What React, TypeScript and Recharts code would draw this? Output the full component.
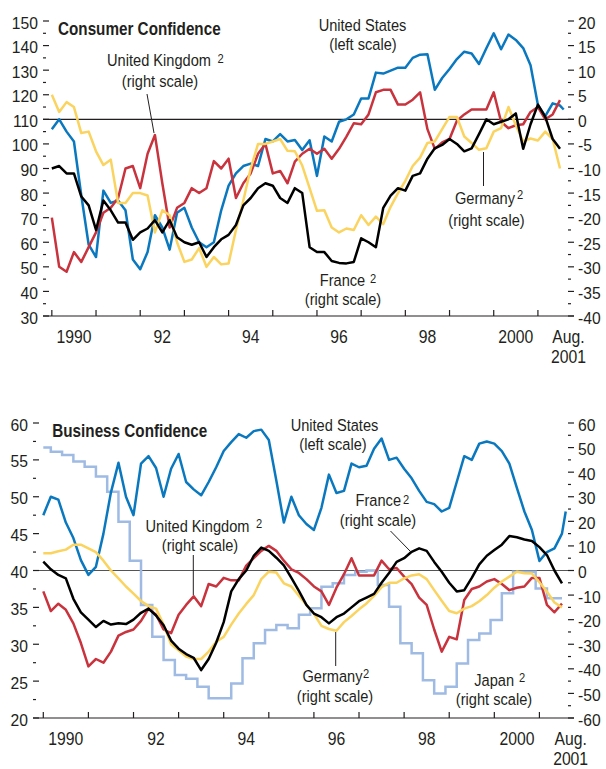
import React from "react";
import { LineChart, Line, XAxis, YAxis, ReferenceLine } from "recharts";

const FONT = '"Liberation Sans", Arial, Helvetica, sans-serif';
const INK = "#231f20";

// month index, 0 = Jan 1990; every second month, last point Aug 2001
const MONTHS = [...Array.from({ length: 70 }, (_, i) => i * 2), 139];

// Consumer confidence (US left scale, others right scale)
const US_CONS = [
  106, 110, 105, 101, 79, 59, 54, 81, 76, 77,
  73, 53, 49, 56, 71, 66, 57, 72, 74, 66,
  60, 58, 60, 73, 83, 88, 91, 92, 91, 102,
  101, 104, 101, 101.6, 97.5, 101.5, 87, 103, 101, 109,
  110, 112, 118.5, 118.5, 129, 128.6, 129.8, 131, 131, 135,
  136.3, 136.5, 122, 126.8, 130.5, 134.5, 137.5, 136.8, 132.5, 138.9,
  145, 138.5, 144.5, 142.3, 139, 132, 115.8, 111.3, 116.5, 115.6,
  114,
];
const UK_CONS = [
  -20, -30, -31, -27, -29, -26, -23, -19, -18, -16,
  -10, -9.5, -14, -7, -3.2, -13, -22, -18, -17, -14,
  -15, -14, -8.5, -10, -8, -16, -13, -11, -7, -5,
  -11, -10.5, -13, -8.6, -7, -6, -7, -6, -8, -6,
  -3.5, -0.8, -1, 1, 5.5, 6, 6, 3, 3, 4,
  5.5, -2, -6, -4.7, -4, -0.3, 1, 2, 2, 2,
  5.5, -0.5, -1.8, -1.2, -1, 1.5, 2.5, 0, 1, 3.9,
  null,
];
const DE_CONS = [
  5, 1.5, 3.5, 2.5, -2.8, -2.5, -6.5, -9.3, -8.2, -17,
  -17, -15, -15, -15.5, -23, -18.5, -19.5, -25, -29, -28.5,
  -26.2, -30, -28, -29.5, -29.3, -22.5, -16.5, -10, -5, -5,
  -4.5, -4, -6.4, -6.5, -9.4, -14, -18.6, -18.5, -22, -23,
  -22.2, -22.5, -19.5, -21.5, -19.8, -21.3, -17.8, -15, -12.5, -9.5,
  -7.8, -4.8, -4.5, -2, 0.5, 0.5, -3.5, -4.8, -6.2, -5.9,
  -2.5, -1.8, 2.5, -1.2, -4.5, -3.9, -4.3, -2.5, -4, -10,
  null,
];
const FR_CONS = [
  -10, -9.5, -11, -11, -15.7, -17.5, -22.5, -16.5, -18.5, -21,
  -21, -24.5, -23, -22.2, -20.5, -23, -20.5, -24, -25, -25.5,
  -25, -28, -26, -24.4, -23.5, -21.5, -17.5, -16, -14, -13,
  -13.5, -16, -17, -14, -15, -26, -27, -27, -28.8, -29.2,
  -29.3, -29, -24.2, -25, -26, -18, -15.5, -14, -14.5, -11.5,
  -11, -8, -5.9, -5.2, -4, -5, -6.5, -5.9, -3, 0,
  -1, -0.5, 0, 1.2, -6, -1, 3, 0.5, -4, -6,
  null,
];

// Business confidence (US left scale, others right scale)
const US_BUS = [
  47.5, 50, 49.6, 46.5, 44.4, 41.4, 39.4, 40.5, 45, 50.6,
  54.6, 50, 47.5, 54.5, 55.5, 53.9, 50, 53.8, 55.8, 52,
  51, 50.2, 52, 54, 56.2, 57.4, 58.5, 58, 58.9, 59.1,
  57.7, 52.2, 46.5, 50, 47.5, 46.3, 45.5, 48.5, 53, 50.5,
  50.8, 54.5, 54, 54.2, 56.5, 57.9, 55, 55.3, 53.8, 52.5,
  50.8, 49.3, 49, 48, 48.5, 52, 55.5, 55, 57.2, 57.5,
  57.2, 56.2, 54.5, 51.2, 48, 45.5, 41.3, 42.5, 43, 45,
  48,
];
const UK_BUS = [
  -8.5, -16.5, -13.5, -16, -21.5, -29.5, -39, -36, -37.5, -33,
  -26.5, -25, -24, -20.5, -15.5, -18, -24, -25.5, -18, -14,
  -10.5, -14.5, -5.5, -6.5, -3, -4, -4, 2, 5, 8,
  10, 8, 4, 0.5, -1, -3.5, -6.5, -8.5, -14, -7,
  -1.5, 5, -2, -2, -2, 4, 0.5, 1, -2.5, -5.5,
  -11, -14, -24, -33, -27, -28, -12, -7.5, -6.5, -4.5,
  -3.5, -5.5, -8, -7, -6.5, -3, -3, -14, -17, -13.5,
  null,
];
const DE_BUS = [
  7, 7, 7.8, 8.5, 10.5, 10.5, 9, 7.5, 4, 0,
  -3.2, -6.5, -9.4, -12.4, -14.5, -15.5, -22, -30, -32.5, -35,
  -36, -36, -33, -29, -27, -22, -17.5, -13.6, -10, -3.5,
  -0.5, -0.8, -5.2, -6.5, -10.3, -14, -17.6, -22.5, -23.8, -24.5,
  -21, -18.5, -15.8, -13.4, -10.3, -6.8, -5, -5, -3.2, -2,
  -1.5, -3.5, -8, -12.3, -16.5, -17.4, -15.5, -14.5, -12.5, -10,
  -7, -4.5, -2.5, -0.5, -1.1, -1.2, -4.8, -8.6, -13, -15,
  null,
];
const FR_BUS = [
  3.6, 0.5, -1.8, -3.2, -11.5, -17, -20, -23, -20.5, -22,
  -21.5, -21.8, -20, -17.2, -15.5, -18.3, -22.3, -28.5, -31.8, -34,
  -35.5, -40.5, -36, -29.4, -21, -8.5, -3.5, 0, 6, 9.3,
  8, 5.2, 2.1, -3, -8.3, -14, -17.5, -19, -21.5, -19,
  -17.5, -15, -12.5, -11, -9.5, -5, -1, 3.5, 5, 7.6,
  9, 8, 3.5, -0.5, -5, -8.5, -8, -3, 2.5, 6,
  8.3, 10.5, 14, 13.5, 12.6, 12, 9.5, 6.3, 0, -5.2,
  null,
];

// Japan (Tankan, quarterly)
const JP_MONTHS = [
  0, 2, 5, 8, 11, 14, 17, 20, 23, 26, 29, 32, 35, 38, 41, 44, 47, 50, 53, 56,
  59, 62, 65, 68, 71, 74, 77, 80, 83, 86, 89, 92, 95, 98, 101, 104, 107, 110,
  113, 116, 119, 122, 125, 128, 131, 134, 138,
];
const JP_BUS = [
  50, 48.3, 47, 44.3, 42.2, 38.2, 32, 19.8, 4, -14, -26.9, -36.4, -42.5, -44,
  -47.3, -52, -52, -46, -35.7, -29.6, -24.2, -22.2, -23.5, -18, -15.4, -6.6,
  -5.2, -1.8, -0.5, 0, -5.9, -14.7, -29.6, -33.7, -44.6, -50, -47.3, -37.8,
  -28.3, -25.6, -20.1, -9.3, -0.5, -0.5, -7.3, -11.3, -11.3,
];

const YEAR_TICKS = [0, 12, 24, 36, 48, 60, 72, 84, 96, 108, 120, 132];
const LABEL_POS = [6, 30, 54, 78, 102, 126, 140.3];
const LABELS = [["1990"], ["92"], ["94"], ["96"], ["98"], ["2000"], ["Aug.", "2001"]];

const CONS_LEFT_TICKS = Array.from({ length: 25 }, (_, i) => 30 + i * 5);
const CONS_RIGHT_TICKS = Array.from({ length: 25 }, (_, i) => -40 + i * 2.5);
const BUS_LEFT_TICKS = Array.from({ length: 17 }, (_, i) => 20 + i * 2.5);
const BUS_RIGHT_TICKS = Array.from({ length: 25 }, (_, i) => -60 + i * 5);

const consRows = MONTHS.map((t, i) => ({
  t, us: US_CONS[i], uk: UK_CONS[i], de: DE_CONS[i], fr: FR_CONS[i],
}));
const busRows = MONTHS.map((t, i) => ({
  t, us: US_BUS[i], uk: UK_BUS[i], de: DE_BUS[i], fr: FR_BUS[i],
}));
const jpRows = JP_MONTHS.map((t, i) => ({ t, jp: JP_BUS[i] }));

const C = {
  us: "#0a78bf",
  uk: "#c8333d",
  de: "#fbd35f",
  fr: "#000000",
  jp: "#9fbbe4",
};

function Txt({ x, y, children, size = 17, sx = 0.86, anchor = "middle", bold = false }: any) {
  return (
    <text
      transform={`translate(${x},${y}) scale(${sx},1)`}
      textAnchor={anchor}
      fontFamily={FONT}
      fontSize={size}
      fontWeight={bold ? 700 : 400}
      fill={INK}
    >
      {children}
    </text>
  );
}

const isMajor = (v: number, step: number) => Math.abs(v / step - Math.round(v / step)) < 1e-6;

const leftTick = (step: number) => (props: any) => {
  const { x, y, payload } = props;
  const major = isMajor(payload.value, step);
  return (
    <g>
      <line x1={x} x2={x + (major ? 6 : 3)} y1={y} y2={y} stroke={INK} strokeWidth={1.2} />
      {major && (
        <Txt x={x - 5} y={y + 7.5} size={16.5} sx={0.95} anchor="end">
          {payload.value}
        </Txt>
      )}
    </g>
  );
};

const rightTick = (step: number) => (props: any) => {
  const { x, y, payload } = props;
  const major = isMajor(payload.value, step);
  return (
    <g>
      <line x1={x - 6} x2={x - (major ? 0 : 3)} y1={y} y2={y} stroke={INK} strokeWidth={1.2} />
      {major && (
        <Txt x={x + 4} y={y + 7.5} size={16.5} sx={0.95} anchor="start">
          {payload.value}
        </Txt>
      )}
    </g>
  );
};

const xTick = (props: any) => {
  const { x, y, payload } = props;
  const v = payload.value;
  if (YEAR_TICKS.includes(v)) {
    return <line x1={x} x2={x} y1={y} y2={y - 6} stroke={INK} strokeWidth={1.2} />;
  }
  const idx = LABEL_POS.indexOf(v);
  if (idx < 0) return <g />;
  return (
    <g>
      {LABELS[idx].map((s, k) => (
        <Txt key={s} x={x} y={y + 27 + k * 20} size={17.5} sx={0.9}>
          {s}
        </Txt>
      ))}
    </g>
  );
};

function Note({ lines, sup }: any) {
  return (
    <g>
      {lines.map((l: any) => (
        <Txt key={l.text} x={l.x} y={l.y}>
          {l.text}
        </Txt>
      ))}
      {sup && (
        <Txt x={sup.x} y={sup.y} size={13} anchor="start">
          2
        </Txt>
      )}
    </g>
  );
}

const series = (k: string, axis: string) => (
  <Line
    key={k}
    yAxisId={axis}
    dataKey={k}
    type="linear"
    stroke={(C as any)[k]}
    strokeWidth={2.5}
    dot={false}
    isAnimationActive={false}
    strokeLinejoin="round"
  />
);

export default function App() {
  return (
    <div style={{ position: "absolute", left: 0, top: 0, width: 606, height: 769, background: "#fff" }}>
      <div style={{ position: "absolute", left: 0, top: 0 }}>
        <LineChart width={606} height={370} data={consRows} margin={{ top: 21, right: 0, bottom: 0, left: 0 }}>
          <XAxis
            dataKey="t"
            type="number"
            domain={[-2.4, 141.8]}
            ticks={[...YEAR_TICKS, ...LABEL_POS]}
            interval={0}
            tick={xTick}
            tickLine={false}
            tickSize={0}
            tickMargin={0}
            height={54}
            axisLine={{ stroke: INK, strokeWidth: 1.2 }}
          />
          <YAxis
            yAxisId="left"
            domain={[30, 150]}
            ticks={CONS_LEFT_TICKS}
            interval={0}
            width={43}
            axisLine={false}
            tickLine={false}
            tickSize={0}
            tickMargin={0}
            tick={leftTick(10)}
          />
          <YAxis
            yAxisId="right"
            orientation="right"
            domain={[-40, 20]}
            ticks={CONS_RIGHT_TICKS}
            interval={0}
            width={32}
            axisLine={false}
            tickLine={false}
            tickSize={0}
            tickMargin={0}
            tick={rightTick(5)}
          />
          <ReferenceLine yAxisId="left" y={110} stroke={INK} strokeWidth={1.1} />
          {series("us", "left")}
          {series("uk", "right")}
          {series("de", "right")}
          {series("fr", "right")}
        </LineChart>
      </div>

      <div style={{ position: "absolute", left: 0, top: 400 }}>
        <LineChart width={606} height={369} data={busRows} margin={{ top: 23, right: 0, bottom: 0, left: 0 }}>
          <XAxis
            dataKey="t"
            type="number"
            domain={[-2.74, 141.2]}
            ticks={[...YEAR_TICKS, ...LABEL_POS]}
            interval={0}
            tick={xTick}
            tickLine={false}
            tickSize={0}
            tickMargin={0}
            height={51}
            axisLine={{ stroke: INK, strokeWidth: 1.2 }}
          />
          <YAxis
            yAxisId="left"
            domain={[20, 60]}
            ticks={BUS_LEFT_TICKS}
            interval={0}
            width={33}
            axisLine={false}
            tickLine={false}
            tickSize={0}
            tickMargin={0}
            tick={leftTick(5)}
          />
          <YAxis
            yAxisId="right"
            orientation="right"
            domain={[-60, 60]}
            ticks={BUS_RIGHT_TICKS}
            interval={0}
            width={32}
            axisLine={false}
            tickLine={false}
            tickSize={0}
            tickMargin={0}
            tick={rightTick(10)}
          />
          <ReferenceLine yAxisId="left" y={40} stroke="#555" strokeWidth={1.1} />
          <Line
            yAxisId="right"
            data={jpRows}
            dataKey="jp"
            type="stepAfter"
            stroke={C.jp}
            strokeWidth={2.5}
            dot={false}
            isAnimationActive={false}
          />
          {series("us", "left")}
          {series("uk", "right")}
          {series("de", "right")}
          {series("fr", "right")}
        </LineChart>
      </div>

      <svg
        width={606}
        height={769}
        style={{ position: "absolute", left: 0, top: 0, pointerEvents: "none" }}
      >
        {/* top panel */}
        <Txt x={58} y={35} size={18.6} sx={0.82} anchor="start" bold>
          Consumer Confidence
        </Txt>
        <Note
          lines={[
            { text: "United Kingdom", x: 159, y: 66 },
            { text: "(right scale)", x: 160, y: 86.5 },
          ]}
          sup={{ x: 217.5, y: 63 }}
        />
        <line x1={147} y1={94} x2={154} y2={133} stroke={INK} strokeWidth={1} />
        <Note
          lines={[
            { text: "United States", x: 362.5, y: 30.5 },
            { text: "(left scale)", x: 363, y: 50 },
          ]}
        />
        <Note
          lines={[
            { text: "Germany", x: 485, y: 204 },
            { text: "(right scale)", x: 486.5, y: 226 },
          ]}
          sup={{ x: 517, y: 198.5 }}
        />
        <line x1={483.5} y1={152} x2={483.5} y2={186} stroke={INK} strokeWidth={1} />
        <Note
          lines={[
            { text: "France", x: 342.5, y: 286 },
            { text: "(right scale)", x: 343, y: 305 },
          ]}
          sup={{ x: 370, y: 283 }}
        />

        {/* bottom panel */}
        <Txt x={52.3} y={437.3} size={18.6} sx={0.82} anchor="start" bold>
          Business Confidence
        </Txt>
        <Note
          lines={[
            { text: "United States", x: 334.5, y: 430.7 },
            { text: "(left scale)", x: 333, y: 449.7 },
          ]}
        />
        <Note
          lines={[
            { text: "France", x: 378.3, y: 506 },
            { text: "(right scale)", x: 378, y: 526.4 },
          ]}
          sup={{ x: 403, y: 504 }}
        />
        <line x1={390.5} y1={531} x2={410} y2={551} stroke={INK} strokeWidth={1} />
        <Note
          lines={[
            { text: "United Kingdom", x: 197.5, y: 531.7 },
            { text: "(right scale)", x: 200, y: 551.4 },
          ]}
          sup={{ x: 256, y: 528.3 }}
        />
        <line x1={193.3} y1={555} x2={193.3} y2={595} stroke={INK} strokeWidth={1} />
        <Note
          lines={[
            { text: "Germany", x: 332.5, y: 681.6 },
            { text: "(right scale)", x: 335, y: 702.4 },
          ]}
          sup={{ x: 363, y: 678 }}
        />
        <line x1={335.7} y1={632} x2={335.7} y2={666} stroke={INK} strokeWidth={1} />
        <Note
          lines={[
            { text: "Japan", x: 494.2, y: 686 },
            { text: "(right scale)", x: 494, y: 704.7 },
          ]}
          sup={{ x: 519, y: 681.7 }}
        />
      </svg>
    </div>
  );
}
